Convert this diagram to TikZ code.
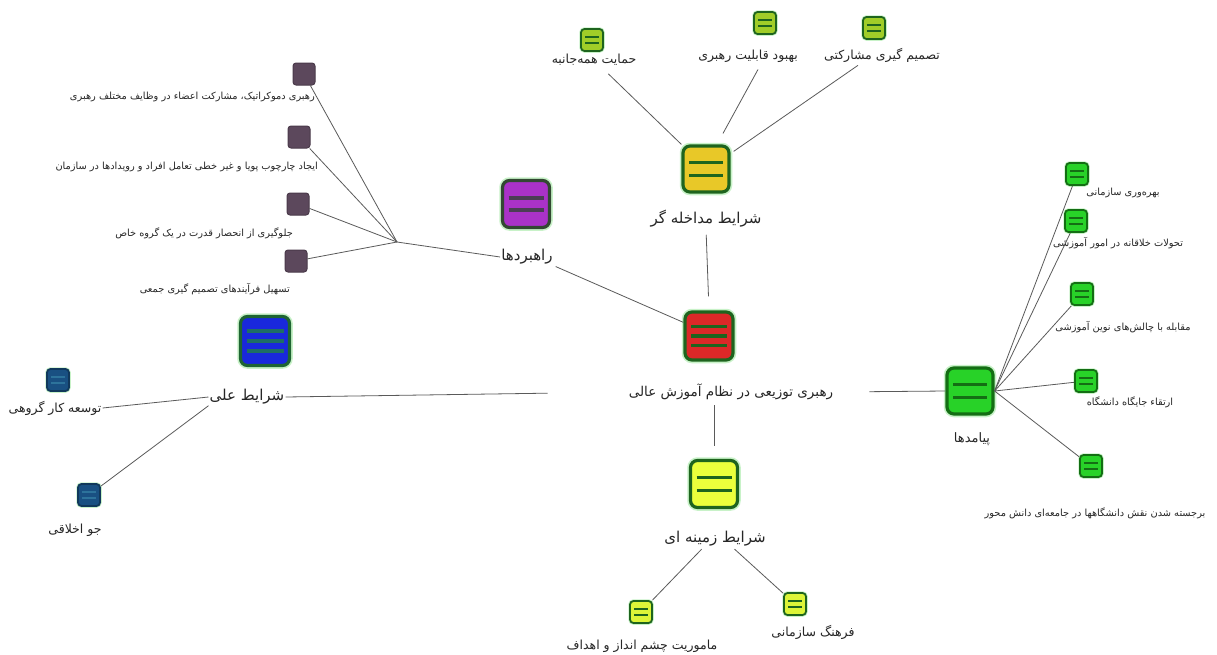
\documentclass[tikz,border=0pt]{standalone}
\usepackage{fontspec}
\usetikzlibrary{calc}
\TeXXeTstate=1
\newfontfamily\arabicfont[Script=Arabic]{DejaVu Sans}
\newcommand{\fa}[1]{{\arabicfont\beginR #1\endR}}
\definecolor{dg}{RGB}{30,100,30}
\definecolor{halo}{RGB}{200,242,200}
\definecolor{yelI}{RGB}{232,200,40}
\definecolor{redC}{RGB}{220,40,40}
\definecolor{purS}{RGB}{170,50,200}
\definecolor{purB}{RGB}{50,72,50}
\definecolor{purBar}{RGB}{75,62,85}
\definecolor{bluC}{RGB}{25,40,220}
\definecolor{bluB}{RGB}{30,100,50}
\definecolor{bluBar}{RGB}{30,110,100}
\definecolor{limeZ}{RGB}{235,255,60}
\definecolor{grnP}{RGB}{40,210,40}
\definecolor{grnB}{RGB}{20,110,20}
\definecolor{limeS}{RGB}{160,205,40}
\definecolor{purSm}{RGB}{92,72,92}
\definecolor{bluSm}{RGB}{25,80,130}
\definecolor{bluSmBar}{RGB}{45,115,155}
\definecolor{lineC}{RGB}{90,90,90}
\tikzset{
  conn/.style={draw=lineC, line width=0.8pt},
  lbl/.style={inner sep=1pt, text=black!85},
  small/.style={lbl, font=\fontsize{9.8}{11}\selectfont},
  mid/.style={lbl, font=\fontsize{12.5}{14}\selectfont},
  big/.style={lbl, font=\fontsize{15}{18}\selectfont},
  bigicon/.style n args={4}{rectangle, rounded corners=7pt, minimum size=46pt, inner sep=0pt,
    fill=#1, draw=#2, line width=3.2pt, preaction={draw=halo, line width=6.5pt},
    path picture={\foreach \f in {#3}{\draw[#4, line width=3.6pt, shorten <=6pt, shorten >=6pt]
      ($(path picture bounding box.south west)!\f!(path picture bounding box.north west)$) --
      ($(path picture bounding box.south east)!\f!(path picture bounding box.north east)$);}}},
  smallicon/.style n args={4}{rectangle, rounded corners=3.5pt, minimum size=22pt, inner sep=0pt,
    fill=#1, draw=#2, line width=1.8pt, preaction={draw=halo, line width=3.5pt},
    path picture={\foreach \f in {#3}{\draw[#4, line width=1.8pt, shorten <=4pt, shorten >=4pt]
      ($(path picture bounding box.south west)!\f!(path picture bounding box.north west)$) --
      ($(path picture bounding box.south east)!\f!(path picture bounding box.north east)$);}}},
  plainsmall/.style={rectangle, rounded corners=3pt, minimum size=22pt, inner sep=0pt,
    fill=#1, draw=#1!80!black, line width=1pt},
}
\begin{document}
\begin{tikzpicture}[x=1pt, y=-1pt]
\useasboundingbox (0,0) rectangle (1217,654);
\fill[white] (0,0) rectangle (1217,654);

% big icons
\node[bigicon={redC}{dg}{0.3,0.5,0.7}{dg}, minimum size=48pt] (center) at (709,336) {};
\node[bigicon={yelI}{dg}{0.36,0.64}{dg}] (inter) at (706,169) {};
\node[bigicon={purS}{purB}{0.37,0.63}{purBar}, minimum size=47pt] (strat) at (526,204) {};
\node[bigicon={bluC}{bluB}{0.3,0.5,0.7}{bluBar}, minimum size=49pt] (causal) at (265,341) {};
\node[bigicon={limeZ}{dg}{0.36,0.64}{dg}, minimum size=47pt] (context) at (714,484) {};
\node[bigicon={grnP}{grnB}{0.36,0.64}{grnB}] (conseq) at (970,391) {};

% big labels
\node[lbl, font=\fontsize{13.5}{15}\selectfont] (centerL) at (731,392) {\fa{رهبری توزیعی در نظام آموزش عالی}};
\node[big] (interL) at (706,219) {\fa{شرایط مداخله گر}};
\node[big] (stratL) at (527,257) {\fa{راهبردها}};
\node[big] (causalL) at (247,397) {\fa{شرایط علی}};
\node[big] (contextL) at (715,539) {\fa{شرایط زمینه ای}};
\node[big, font=\fontsize{13}{15}\selectfont] (conseqL) at (972,439) {\fa{پیامدها}};

% intervening children
\node[smallicon={limeS}{dg}{0.36,0.64}{dg}] (i1) at (592,40) {};
\node[smallicon={limeS}{dg}{0.36,0.64}{dg}] (i2) at (765,23) {};
\node[smallicon={limeS}{dg}{0.36,0.64}{dg}] (i3) at (874,28) {};
\node[mid] (i1L) at (594,60) {\fa{حمایت همه‌جانبه}};
\node[mid] (i2L) at (748,56) {\fa{بهبود قابلیت رهبری}};
\node[mid] (i3L) at (882,55) {\fa{تصمیم گیری مشارکتی}};

% strategy children
\node[plainsmall=purSm] (s1) at (304,74) {};
\node[plainsmall=purSm] (s2) at (299,137) {};
\node[plainsmall=purSm] (s3) at (298,204) {};
\node[plainsmall=purSm] (s4) at (296,261) {};
\node[small, anchor=east] (s1L) at (316,97) {\fa{رهبری دموکراتیک، مشارکت اعضاء در وظایف مختلف رهبری}};
\node[small, anchor=east] (s2L) at (319,167) {\fa{ایجاد چارچوب پویا و غیر خطی تعامل افراد و رویدادها در سازمان}};
\node[small, anchor=east] (s3L) at (294,233) {\fa{جلوگیری از انحصار قدرت در یک گروه خاص}};
\node[small, anchor=east] (s4L) at (291,289) {\fa{تسهیل فرآیندهای تصمیم گیری جمعی}};
\coordinate (hub) at (397,242);

% causal children
\node[smallicon={bluSm}{bluSm!70!black}{0.35,0.65}{bluSmBar}] (c1) at (58,380) {};
\node[smallicon={bluSm}{bluSm!70!black}{0.35,0.65}{bluSmBar}] (c2) at (89,495) {};
\node[mid] (c1L) at (55,408) {\fa{توسعه کار گروهی}};
\node[mid] (c2L) at (75,530) {\fa{جو اخلاقی}};

% context children
\node[smallicon={limeZ!80!limeS}{dg}{0.36,0.64}{dg}] (x1) at (641,612) {};
\node[smallicon={limeZ!80!limeS}{dg}{0.36,0.64}{dg}] (x2) at (795,604) {};
\node[mid] (x1L) at (642,646) {\fa{ماموریت چشم انداز و اهداف}};
\node[mid] (x2L) at (813,632) {\fa{فرهنگ سازمانی}};

% consequence children
\node[smallicon={grnP}{grnB}{0.36,0.64}{grnB}] (q1) at (1077,174) {};
\node[smallicon={grnP}{grnB}{0.36,0.64}{grnB}] (q2) at (1076,221) {};
\node[smallicon={grnP}{grnB}{0.36,0.64}{grnB}] (q3) at (1082,294) {};
\node[smallicon={grnP}{grnB}{0.36,0.64}{grnB}] (q4) at (1086,381) {};
\node[smallicon={grnP}{grnB}{0.36,0.64}{grnB}] (q5) at (1091,466) {};
\node[small] (q1L) at (1123,193) {\fa{بهره‌وری سازمانی}};
\node[small] (q2L) at (1118,243) {\fa{تحولات خلاقانه در امور آموزشی}};
\node[small] (q3L) at (1123,327) {\fa{مقابله با چالش‌های نوین آموزشی}};
\node[small] (q4L) at (1130,402) {\fa{ارتقاء جایگاه دانشگاه}};
\node[small] (q5L) at (1095,513) {\fa{برجسته شدن نقش دانشگاهها در جامعه‌ای دانش محور}};

% connectors
\draw[conn, shorten <=6pt, shorten >=14pt] (interL.south) -- (center.north);
\draw[conn, shorten <=10pt] (i1L) -- (inter.north west);
\draw[conn] ($(i2L.south)+(10,6)$) -- ($(inter.north)+(17,-11)$);
\draw[conn] ($(i3L.south)+(-24,2)$) -- ($(inter.north east)+(3,7)$);
\draw[conn, shorten <=2pt] (stratL.south east) -- (center.152);
\draw[conn] (s1) -- (hub);
\draw[conn] (s2) -- (hub);
\draw[conn] (s3) -- (hub);
\draw[conn] (s4) -- (hub);
\draw[conn] (hub) -- (stratL.west);
\draw[conn] (causalL.west) -- (c1L.east);
\draw[conn] (causalL.south west) -- (c2);
\draw[conn, shorten >=80pt] (causalL.east) -- (centerL.west);
\draw[conn, shorten <=35pt] (centerL.east) -- (conseq.west);
\draw[conn, shorten <=4pt, shorten >=13pt] (context.north |- centerL.south) -- (context.north);
\draw[conn, shorten <=2pt] ($(contextL.south)+(-12,0)$) -- (x1);
\draw[conn, shorten <=2pt] ($(contextL.south)+(18,0)$) -- (x2);
\draw[conn] (conseq.east) -- (q1);
\draw[conn] (conseq.east) -- (q2);
\draw[conn] (conseq.east) -- (q3);
\draw[conn] (conseq.east) -- (q4);
\draw[conn] (conseq.east) -- (q5);
\end{tikzpicture}
\end{document}
